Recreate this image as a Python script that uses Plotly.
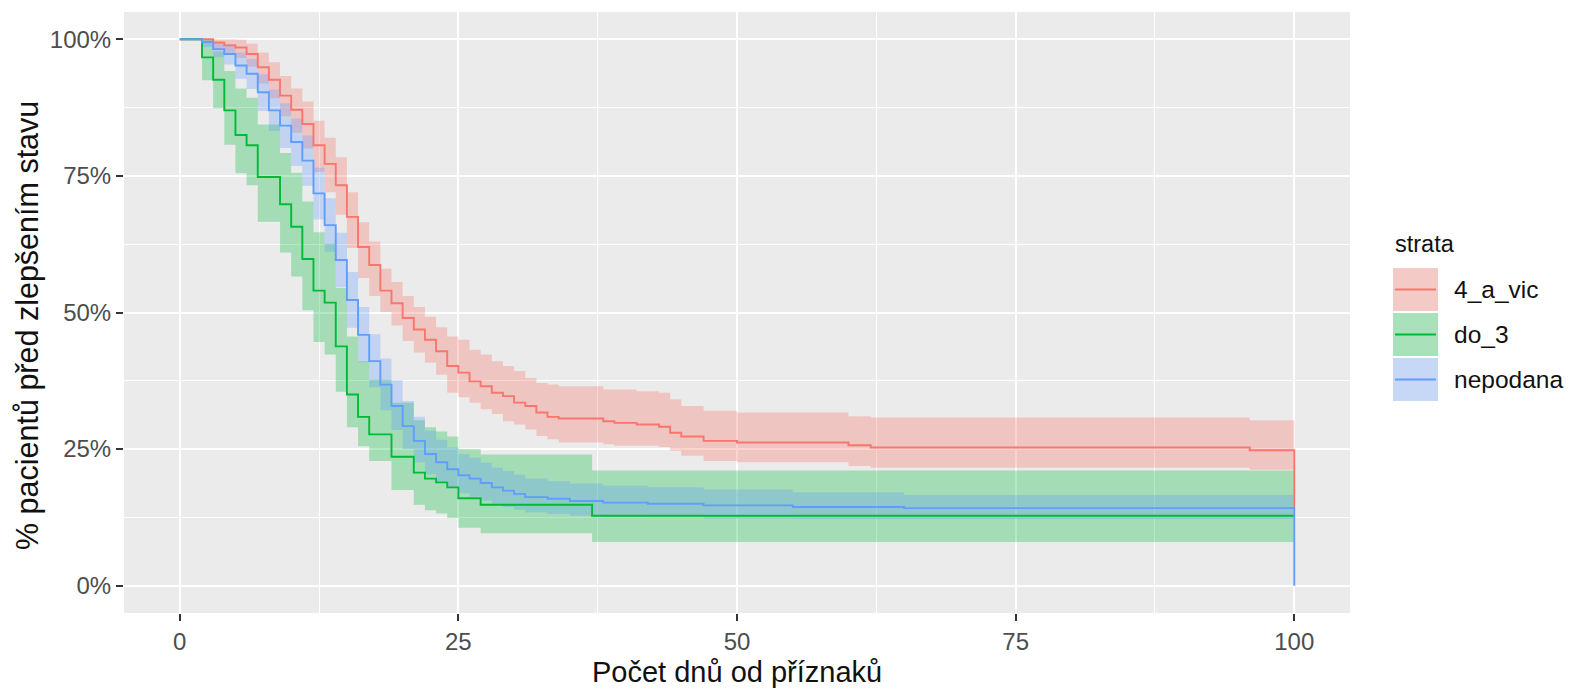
import plotly.graph_objects as go

# ---------------- data ----------------
END_DAY = 100

red_name = "4_a_vic"
red_t = [0, 3, 4, 5, 6, 7, 8, 9, 10, 11, 12, 13, 14, 15, 16, 17, 18, 19, 20, 21, 22, 23, 24, 25, 26, 27, 28, 29,
         30, 31, 32, 33, 34, 38, 39, 41, 43, 44, 45, 47, 50, 60, 62, 96]
red_s = [100, 99.4, 98.9, 98.5, 97.3, 94.9, 92.6, 89.7, 87.1, 84.5, 80.6, 77.2, 73.3, 67.5, 62.0, 58.7, 54.0, 51.7,
         49.0, 46.9, 45.0, 42.9, 40.2, 39.0, 37.4, 36.5, 35.3, 34.7, 33.5, 32.9, 31.7, 30.9, 30.6, 30.1, 29.8, 29.5,
         29.1, 28.0, 27.3, 26.5, 26.2, 25.7, 25.3, 24.8]
red_up = [100, 100, 100, 99.9, 99.2, 97.6, 95.8, 93.3, 91.0, 88.6, 85.1, 82.0, 78.4, 72.0, 66.5, 63.0, 58.0, 55.6,
          53.0, 51.0, 49.2, 47.3, 45.6, 45.0, 43.2, 42.3, 41.1, 40.2, 39.3, 38.0, 37.1, 36.8, 36.5, 35.9, 35.9, 35.6,
          35.3, 34.1, 32.9, 32.0, 31.7, 31.0, 30.8, 30.3]
red_lo = [100, 98.0, 97.2, 96.6, 95.0, 91.9, 89.2, 85.9, 82.9, 80.0, 75.7, 72.0, 67.9, 61.8, 56.3, 53.0, 50.1, 47.6,
          44.8, 42.7, 40.8, 38.6, 35.3, 34.5, 33.5, 32.3, 31.4, 30.1, 29.5, 28.6, 27.4, 26.8, 26.2, 25.9, 25.6, 25.6,
          25.4, 24.7, 23.8, 22.8, 22.6, 21.9, 21.6, 21.2]
red_final = 14.2

green_name = "do_3"
green_t = [0, 2, 3, 4, 5, 6, 7, 9, 10, 11, 12, 13, 14, 15, 16, 17, 19, 21, 22, 23, 24, 25, 27, 37]
green_s = [100, 96.7, 92.6, 87.0, 82.5, 80.6, 74.8, 69.8, 65.7, 59.8, 54.0, 51.8, 43.8, 35.0, 30.9, 27.7, 23.6,
           20.7, 19.6, 18.9, 18.0, 16.0, 14.8, 12.8]
green_up = [100, 99.9, 97.8, 94.2, 91.0, 89.3, 84.4, 79.2, 75.6, 70.3, 64.7, 62.6, 54.5, 45.6, 41.1, 37.7, 33.5,
            30.3, 29.0, 28.2, 27.3, 25.0, 24.0, 21.1]
green_lo = [100, 92.5, 87.4, 80.7, 75.5, 73.3, 66.6, 61.0, 56.6, 50.4, 44.6, 42.3, 35.5, 29.0, 25.5, 22.8, 17.5,
            14.8, 13.8, 13.2, 12.4, 10.6, 9.6, 8.0]
green_final = None

blue_name = "nepodana"
blue_t = [0, 2, 3, 4, 5, 6, 7, 8, 9, 10, 11, 12, 13, 14, 15, 16, 17, 18, 19, 20, 21, 22, 23, 24, 25, 26, 27, 28,
          29, 30, 31, 33, 35, 38, 42, 47, 55, 65]
blue_s = [100, 99.5, 98.2, 97.3, 95.2, 93.7, 90.3, 87.0, 84.2, 81.2, 77.8, 71.8, 66.0, 59.6, 52.3, 45.9, 41.1, 36.8,
          32.9, 29.2, 26.5, 24.1, 22.6, 21.3, 20.2, 19.6, 18.8, 18.0, 17.4, 16.8, 16.2, 15.9, 15.5, 15.2, 15.0,
          14.7, 14.4, 14.2]
blue_up = [100, 100, 99.6, 99.1, 97.6, 96.4, 93.6, 90.8, 88.3, 85.5, 82.4, 76.5, 70.9, 64.6, 57.4, 51.0, 46.0,
           41.6, 37.6, 33.8, 30.9, 28.4, 26.7, 25.3, 24.1, 23.4, 22.5, 21.6, 21.0, 20.3, 19.6, 19.1, 18.7, 18.3,
           18.0, 17.6, 17.1, 16.6]
blue_lo = [100, 98.6, 96.7, 95.4, 92.8, 90.9, 86.9, 83.2, 80.1, 76.8, 73.2, 67.0, 61.1, 54.6, 47.2, 40.9, 36.3,
           32.1, 28.5, 25.0, 22.6, 20.4, 19.1, 17.9, 16.9, 16.3, 15.6, 14.9, 14.4, 13.9, 13.4, 13.1, 12.8, 12.6,
           12.5, 12.3, 12.2, 12.2]
blue_final = 0

x_ticks = [0, 25, 50, 75, 100]
y_ticks = [0, 25, 50, 75, 100]
y_ticktext = ["0%", "25%", "50%", "75%", "100%"]
minor_ticks = [12.5, 37.5, 62.5, 87.5]

x_title = "Počet dnů od příznaků"
y_title = "% pacientů před zlepšením stavu"
legend_title = "strata"

series = [
    (red_name, red_t, red_s, red_up, red_lo, red_final, "#F8766D", "rgba(248,118,109,0.32)"),
    (green_name, green_t, green_s, green_up, green_lo, green_final, "#00BA38", "rgba(0,186,56,0.30)"),
    (blue_name, blue_t, blue_s, blue_up, blue_lo, blue_final, "#619CFF", "rgba(97,156,255,0.30)"),
]

# ---------------- figure ----------------
W, H = 1569, 689
ML, MR, MT, MB = 124, 219, 12, 76
PW, PH = W - ML - MR, H - MT - MB


def pxx(px):
    return (px - ML) / PW


def pxy(py):
    return (H - MB - py) / PH


fig = go.Figure()

# ribbons
for name, t, s, up, lo, fin, col, fcol in series:
    xs = list(t) + [END_DAY]
    fig.add_trace(go.Scatter(x=xs, y=list(up) + [up[-1]], mode="lines", line=dict(width=0, shape="hv"),
                             hoverinfo="skip", showlegend=False))
    fig.add_trace(go.Scatter(x=xs, y=list(lo) + [lo[-1]], mode="lines", line=dict(width=0, shape="hv"),
                             fill="tonexty", fillcolor=fcol, hoverinfo="skip", showlegend=False))

# survival lines
for name, t, s, up, lo, fin, col, fcol in series:
    xs = list(t) + [END_DAY]
    ys = list(s) + [s[-1]]
    if fin is not None:
        xs.append(END_DAY)
        ys.append(fin)
    fig.add_trace(go.Scatter(x=xs, y=ys, mode="lines", name=name,
                             line=dict(color=col, width=1.9, shape="hv"), showlegend=False))

FONT = "Liberation Sans, Arial, sans-serif"
axis_common = dict(
    range=[-5, 105], ticks="outside", ticklen=7, tickwidth=2, tickcolor="#333333",
    tickfont=dict(family=FONT, size=24, color="#4D4D4D"),
    showgrid=True, gridcolor="white", gridwidth=2.2, zeroline=False, showline=False,
    minor=dict(tickvals=minor_ticks, showgrid=True, gridcolor="white", gridwidth=1.1, ticks=""),
    fixedrange=True,
)
fig.update_xaxes(tickvals=x_ticks, **axis_common)
fig.update_yaxes(tickvals=y_ticks, ticktext=y_ticktext, **axis_common)

annotations = [
    dict(text=x_title, x=0.5, y=pxy(672), xref="paper", yref="paper", showarrow=False,
         xanchor="center", yanchor="middle", font=dict(family=FONT, size=29, color="#111111")),
    dict(text=y_title, x=pxx(27), y=pxy(326), xref="paper", yref="paper", showarrow=False, textangle=-90,
         xanchor="center", yanchor="middle", font=dict(family=FONT, size=30.5, color="#111111")),
    dict(text=legend_title, x=pxx(1393), y=pxy(244), xref="paper", yref="paper", showarrow=False,
         xanchor="left", yanchor="middle", font=dict(family=FONT, size=23.5, color="#111111")),
]
shapes = []
key_tops = [268, 313, 358]
key_h = 43
for (name, t, s, up, lo, fin, col, fcol), top in zip(series, key_tops):
    x0, x1 = pxx(1393), pxx(1438)
    y0, y1 = pxy(top + key_h), pxy(top)
    shapes.append(dict(type="rect", xref="paper", yref="paper", x0=x0, x1=x1, y0=y0, y1=y1,
                       fillcolor="#F2F2F2", line=dict(width=0), layer="above"))
    shapes.append(dict(type="rect", xref="paper", yref="paper", x0=x0, x1=x1, y0=y0, y1=y1,
                       fillcolor=fcol, line=dict(width=0), layer="above"))
    ym = pxy(top + key_h / 2)
    shapes.append(dict(type="line", xref="paper", yref="paper", x0=pxx(1395), x1=pxx(1436), y0=ym, y1=ym,
                       line=dict(color=col, width=1.8), layer="above"))
    annotations.append(dict(text=name, x=pxx(1452), y=ym, xref="paper", yref="paper", showarrow=False,
                            xanchor="left", yanchor="middle", font=dict(family=FONT, size=24.5, color="#111111")))

fig.update_layout(
    width=W, height=H, margin=dict(l=ML, r=MR, t=MT, b=MB, autoexpand=False),
    plot_bgcolor="#EBEBEB", paper_bgcolor="white", showlegend=False,
    annotations=annotations, shapes=shapes,
    font=dict(family=FONT),
)

fig.write_html("out.html")
